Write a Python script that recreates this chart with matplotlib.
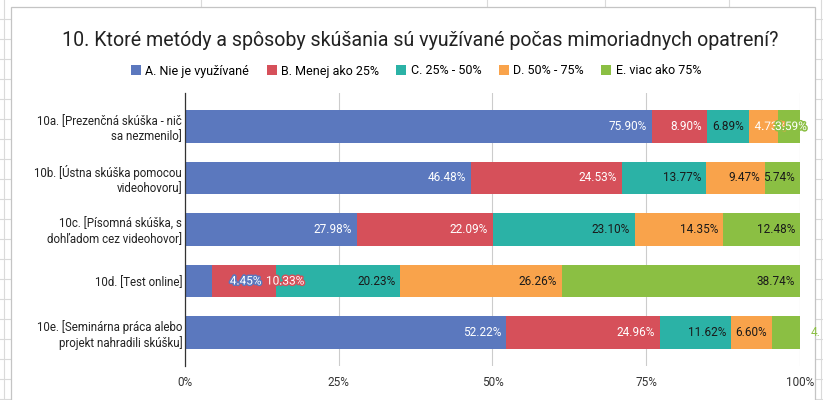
import matplotlib.pyplot as plt
import matplotlib.patheffects as pe
from matplotlib.patches import Rectangle
from matplotlib.lines import Line2D
from matplotlib.transforms import Bbox
import numpy as np

plt.rcParams['font.family'] = ['Roboto', 'DejaVu Sans']

title = "10. Ktoré metódy a spôsoby skúšania sú využívané počas mimoriadnych opatrení?"
questions = ["10a. [Prezenčná skúška - nič\nsa nezmenilo]",
             "10b. [Ústna skúška pomocou\nvideohovoru]",
             "10c. [Písomná skúška, s\ndohľadom cez videohovor]",
             "10d. [Test online]",
             "10e. [Seminárna práca alebo\nprojekt nahradili skúšku]"]
series = ["A. Nie je využívané", "B. Menej ako 25%", "C. 25% - 50%",
          "D. 50% - 75%", "E. viac ako 75%"]
a_vals = [75.90, 46.48, 27.98, 4.45, 52.22]
b_vals = [8.90, 24.53, 22.09, 10.33, 24.96]
c_vals = [6.89, 13.77, 23.10, 20.23, 11.62]
d_vals = [4.73, 9.47, 14.35, 26.26, 6.60]
e_vals = [3.59, 5.74, 12.48, 38.74, 4.60]
xticks = [0, 25, 50, 75, 100]
xtick_labels = ["0%", "25%", "50%", "75%", "100%"]

colors = ["#5b78be", "#d6505a", "#2bb2a6", "#f9a34b", "#8bbf43"]
label_colors = ["white", "white", "#1a1a1a", "#1a1a1a", "#1a1a1a"]

W, H = 823, 400
fig = plt.figure(figsize=(W / 100, H / 100), dpi=100)


def fx(px):
    return px / W


def fy(py):
    return 1 - py / H


# spreadsheet background behind the chart card
grid_c = "#dadada"
for y in range(19, 400, 20):
    fig.add_artist(Line2D([0, fx(11)], [fy(y), fy(y)], color=grid_c, lw=0.8, zorder=-3))
    fig.add_artist(Line2D([fx(815), 1], [fy(y), fy(y)], color=grid_c, lw=0.8, zorder=-3))
for x in [4, 821]:
    fig.add_artist(Line2D([fx(x), fx(x)], [0, 1], color=grid_c, lw=0.8, zorder=-3))
for x in [201, 487, 605, 729]:
    fig.add_artist(Line2D([fx(x), fx(x)], [fy(0), fy(7)], color=grid_c, lw=0.8, zorder=-3))
fig.add_artist(Rectangle((fx(11), -0.05), fx(815) - fx(11), fy(7) + 0.05,
                         facecolor="white", edgecolor="#c4c4c4", lw=0.9,
                         transform=fig.transFigure, zorder=-2))

ax = fig.add_axes([fx(185), fy(366), fx(800) - fx(185), fy(93) - fy(366)])
ax.set_facecolor("none")

rows = np.arange(len(questions))
data = np.array([a_vals, b_vals, c_vals, d_vals, e_vals])
left = np.zeros(len(questions))
bars = []
for i in range(len(series)):
    b = ax.barh(rows, data[i], left=left, height=0.64, color=colors[i],
                label=series[i], zorder=2)
    bars.append(b)
    left += data[i]

ax.set_xlim(0, 100)
ax.set_ylim(4.65, -0.65)
ax.set_xticks(xticks)
ax.set_xticklabels(xtick_labels, fontsize=8.5, color="#333333")
ax.set_yticks(rows)
ax.set_yticklabels(questions, fontsize=8.3, color="#222222", ha="right")
ax.tick_params(axis="x", length=0, pad=7)
ax.tick_params(axis="y", length=0, pad=2)
ax.grid(axis="x", color="#cccccc", lw=0.8, zorder=0)
for s in ["top", "right", "bottom"]:
    ax.spines[s].set_visible(False)
ax.spines["left"].set_color("#333333")
ax.spines["left"].set_linewidth(0.9)
ax.spines["left"].set_zorder(3)

# data labels (Sheets style: right aligned inside segment)
tight = {(0, 3): 7, (0, 4): 2, (3, 0): 47, (3, 1): 41}
outside = {(4, 4)}
clip = Bbox.from_extents(0, 0, 820, H)
for i in range(len(series)):
    starts = data[:i].sum(axis=0)
    for r in rows:
        v = data[i][r]
        txt = f"{v:.2f}%"
        end = starts[r] + v
        if (r, i) in outside:
            t = ax.annotate(txt, (end, r), xytext=(11 * 0.72, 0), textcoords="offset points",
                            ha="left", va="center", fontsize=8.5, color=colors[i], zorder=5,
                            annotation_clip=False)
            t.set_clip_box(clip)
            t.set_clip_on(True)
        elif (r, i) in tight:
            t = ax.annotate(txt, (starts[r] + v / 2, r), xytext=(tight[(r, i)] * 0.72, 0),
                            textcoords="offset points", ha="center", va="center",
                            fontsize=8.5, color="white", zorder=5)
            t.set_path_effects([pe.withStroke(linewidth=2.2, foreground=colors[i])])
        else:
            ax.annotate(txt, (end, r), xytext=(-5 * 0.72, 0), textcoords="offset points",
                        ha="right", va="center", fontsize=8.5, color=label_colors[i], zorder=5)

fig.text(fx(420), fy(40), title, ha="center", va="center", fontsize=14.1, color="#222222")
fig.legend(handles=bars, labels=series, loc="center", bbox_to_anchor=(fx(416), fy(71)),
           ncol=5, frameon=False, fontsize=9, handlelength=0.8, handleheight=0.8,
           handletextpad=0.35, columnspacing=1.4, borderaxespad=0)

fig.savefig("out.png", dpi=100)
